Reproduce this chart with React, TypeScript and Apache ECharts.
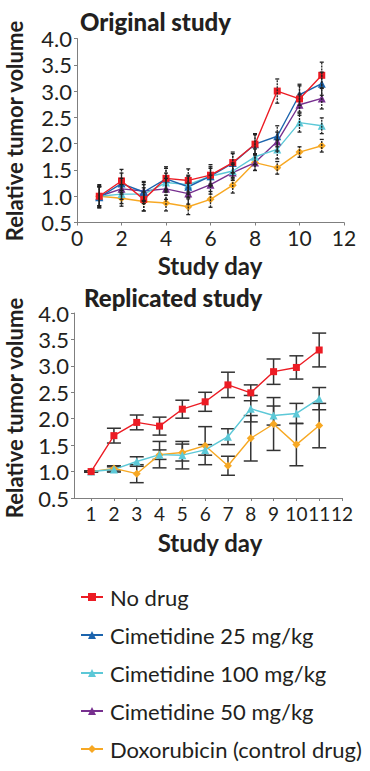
import React, { useEffect, useRef } from "react";
import * as echarts from "echarts";

const seriesNames = [
  "No drug",
  "Cimetidine 25 mg/kg",
  "Cimetidine 100 mg/kg",
  "Cimetidine 50 mg/kg",
  "Doxorubicin (control drug)",
];
const colors = ["#ec1c24", "#1c64ad", "#5cc8d7", "#77308f", "#f7a823"];
const symbols = ["rect", "triangle", "triangle", "triangle", "diamond"];

const days = [1, 2, 3, 4, 5, 6, 7, 8, 9, 10, 11];

// Original study
const origNoDrug = [1.0, 1.29, 0.94, 1.34, 1.3, 1.4, 1.64, 1.99, 3.0, 2.85, 3.3];
const origCim25 = [0.98, 1.24, 1.08, 1.33, 1.18, 1.38, 1.63, 1.99, 2.14, 2.93, 3.14];
const origCim100 = [1.0, 1.04, 1.04, 1.26, 1.22, 1.38, 1.48, 1.75, 1.89, 2.4, 2.34];
const origCim50 = [1.0, 1.14, 1.1, 1.14, 1.05, 1.22, 1.45, 1.64, 2.04, 2.74, 2.86];
const origDoxo = [1.0, 0.96, 0.9, 0.87, 0.8, 0.94, 1.21, 1.64, 1.54, 1.84, 1.96];

const origNoDrugErr = [0.22, 0.22, 0.22, 0.22, 0.22, 0.2, 0.2, 0.2, 0.23, 0.25, 0.25];
const origCim25Err = [0.2, 0.2, 0.18, 0.2, 0.2, 0.18, 0.18, 0.18, 0.2, 0.2, 0.22];
const origCim100Err = [0.18, 0.18, 0.18, 0.18, 0.18, 0.15, 0.15, 0.15, 0.18, 0.18, 0.15];
const origCim50Err = [0.18, 0.2, 0.18, 0.2, 0.2, 0.18, 0.15, 0.15, 0.18, 0.2, 0.2];
const origDoxoErr = [0.2, 0.15, 0.18, 0.15, 0.15, 0.15, 0.15, 0.15, 0.12, 0.1, 0.12];

// Replicated study
const repNoDrug = [1.0, 1.68, 1.93, 1.86, 2.18, 2.32, 2.64, 2.49, 2.89, 2.97, 3.3];
const repCim100 = [1.0, 1.04, 1.19, 1.32, 1.31, 1.41, 1.66, 2.19, 2.06, 2.1, 2.38];
const repDoxo = [1.0, 1.06, 0.96, 1.32, 1.36, 1.49, 1.11, 1.63, 1.9, 1.51, 1.87];

const repNoDrugErr = [0.01, 0.14, 0.14, 0.17, 0.17, 0.18, 0.24, 0.15, 0.24, 0.22, 0.32];
const repCim100Err = [0.01, 0.05, 0.09, 0.25, 0.26, 0.1, 0.15, 0.25, 0.18, 0.19, 0.21];
const repDoxoErr = [0.01, 0.05, 0.17, 0.09, 0.16, 0.36, 0.18, 0.43, 0.5, 0.4, 0.42];

const bottomXTicks = [1, 2, 3, 4, 5, 6, 7, 8, 9, 10, 11, 12];

const FONT = "Lato";
const TEXT = "#231f20";
const AXIS = "#7f7f7f";

function errData(vals: number[], errs: number[]) {
  return days.map((d, i) => [d, vals[i] - errs[i], vals[i] + errs[i]]);
}

function errSeries(
  gridIndex: number,
  data: number[][],
  capW: number,
  stroke: string,
  lineWidth: number,
  dash: number[] | null,
  z: number
) {
  return {
    type: "custom",
    xAxisIndex: gridIndex,
    yAxisIndex: gridIndex,
    z,
    silent: true,
    encode: { x: 0, y: [1, 2] },
    data,
    renderItem: (params: any, api: any) => {
      const x = api.value(0);
      const lo = api.coord([x, api.value(1)]);
      const hi = api.coord([x, api.value(2)]);
      const style: any = { stroke, lineWidth };
      if (dash) style.lineDash = dash;
      const capStyle: any = { stroke, lineWidth };
      return {
        type: "group",
        children: [
          { type: "line", shape: { x1: lo[0], y1: lo[1], x2: hi[0], y2: hi[1] }, style },
          { type: "line", shape: { x1: lo[0] - capW, y1: lo[1], x2: lo[0] + capW, y2: lo[1] }, style: capStyle },
          { type: "line", shape: { x1: hi[0] - capW, y1: hi[1], x2: hi[0] + capW, y2: hi[1] }, style: capStyle },
        ],
      };
    },
  };
}

function lineSeries(gridIndex: number, idx: number, vals: number[]) {
  return {
    type: "line",
    name: seriesNames[idx],
    xAxisIndex: gridIndex,
    yAxisIndex: gridIndex,
    data: days.map((d, i) => [d, vals[i]]),
    symbol: symbols[idx],
    symbolSize: idx === 0 ? 7 : 8,
    showSymbol: true,
    color: colors[idx],
    lineStyle: { color: colors[idx], width: 1.4 },
    itemStyle: { color: colors[idx] },
    z: 2,
  };
}

function yAxis(gridIndex: number) {
  return {
    type: "value",
    gridIndex,
    min: 0.5,
    max: 4.0,
    interval: 0.5,
    axisLine: { show: true, lineStyle: { color: AXIS, width: 1 } },
    axisTick: { show: true, length: 3, lineStyle: { color: AXIS } },
    splitLine: { show: false },
    axisLabel: {
      color: TEXT,
      fontFamily: FONT,
      fontSize: 22,
      margin: 5,
      formatter: (v: number) => v.toFixed(1),
    },
  };
}

function vText(y: number) {
  return {
    type: "text",
    x: 14,
    y,
    rotation: Math.PI / 2,
    style: {
      text: "Relative tumor volume",
      fill: TEXT,
      font: `bold 22px ${FONT}`,
      align: "center",
      verticalAlign: "middle",
    },
  };
}

function xText(y: number) {
  return {
    type: "text",
    x: 210,
    y,
    style: {
      text: "Study day",
      fill: TEXT,
      font: `bold 24px ${FONT}`,
      align: "center",
      verticalAlign: "middle",
    },
  };
}

export default function App() {
  const ref = useRef<HTMLDivElement>(null);
  useEffect(() => {
    if (!ref.current) return;
    const chart = echarts.init(ref.current, null, { renderer: "svg" });
    const option: any = {
      animation: false,
      backgroundColor: "#ffffff",
      textStyle: { fontFamily: FONT },
      grid: [
        { left: 77, top: 38.5, width: 267, height: 184 },
        { left: 74, top: 313, width: 268, height: 185 },
      ],
      xAxis: [
        {
          type: "value",
          gridIndex: 0,
          min: 0,
          max: 12,
          interval: 2,
          axisLine: { show: true, lineStyle: { color: AXIS, width: 1 } },
          axisTick: { show: true, length: 3, lineStyle: { color: AXIS } },
          splitLine: { show: false },
          axisLabel: { color: TEXT, fontFamily: FONT, fontSize: 21, margin: 4, lineHeight: 21 },
        },
        {
          type: "value",
          gridIndex: 1,
          min: 0.25,
          max: 12,
          axisLine: { show: true, lineStyle: { color: AXIS, width: 1 } },
          axisTick: {
            show: true,
            length: 3,
            customValues: bottomXTicks,
            lineStyle: { color: AXIS },
          },
          splitLine: { show: false },
          axisLabel: {
            color: TEXT,
            fontFamily: FONT,
            fontSize: 19,
            margin: 6,
            lineHeight: 19,
            showMaxLabel: true,
            showMinLabel: true,
            hideOverlap: false,
            customValues: bottomXTicks,
          },
        },
      ],
      yAxis: [yAxis(0), yAxis(1)],
      legend: {
        orient: "vertical",
        left: 75,
        top: 581,
        itemWidth: 22,
        itemHeight: 10,
        itemGap: 16,
        data: seriesNames,
        textStyle: { color: TEXT, fontFamily: FONT, fontSize: 22, padding: [0, 0, 0, 2] },
        selectedMode: false,
      },
      graphic: [
        {
          type: "text",
          left: 80,
          top: 9,
          style: { text: "Original study", fill: TEXT, font: `900 24px ${FONT}` },
        },
        {
          type: "text",
          left: 84,
          top: 285,
          style: { text: "Replicated study", fill: TEXT, font: `900 24px ${FONT}` },
        },
        vText(131),
        vText(408),
        xText(265),
        xText(542),
      ],
      series: [
        lineSeries(0, 4, origDoxo),
        lineSeries(0, 3, origCim50),
        lineSeries(0, 2, origCim100),
        lineSeries(0, 1, origCim25),
        lineSeries(0, 0, origNoDrug),
        errSeries(0, errData(origDoxo, origDoxoErr), 2, "#222", 1.3, [2, 1], 5),
        errSeries(0, errData(origCim50, origCim50Err), 2, "#222", 1.3, [2, 1], 5),
        errSeries(0, errData(origCim100, origCim100Err), 2, "#222", 1.3, [2, 1], 5),
        errSeries(0, errData(origCim25, origCim25Err), 2, "#222", 1.3, [2, 1], 5),
        errSeries(0, errData(origNoDrug, origNoDrugErr), 2, "#222", 1.3, [2, 1], 5),
        errSeries(1, errData(repDoxo, repDoxoErr), 7, "#333", 1.5, null, 1),
        errSeries(1, errData(repCim100, repCim100Err), 7, "#333", 1.5, null, 1),
        errSeries(1, errData(repNoDrug, repNoDrugErr), 7, "#333", 1.5, null, 1),
        lineSeries(1, 4, repDoxo),
        lineSeries(1, 2, repCim100),
        lineSeries(1, 0, repNoDrug),
      ],
    };
    chart.setOption(option);
    return () => chart.dispose();
  }, []);
  return (
    <div
      ref={ref}
      style={{ position: "fixed", left: 0, top: 0, width: 370, height: 771 }}
    />
  );
}
